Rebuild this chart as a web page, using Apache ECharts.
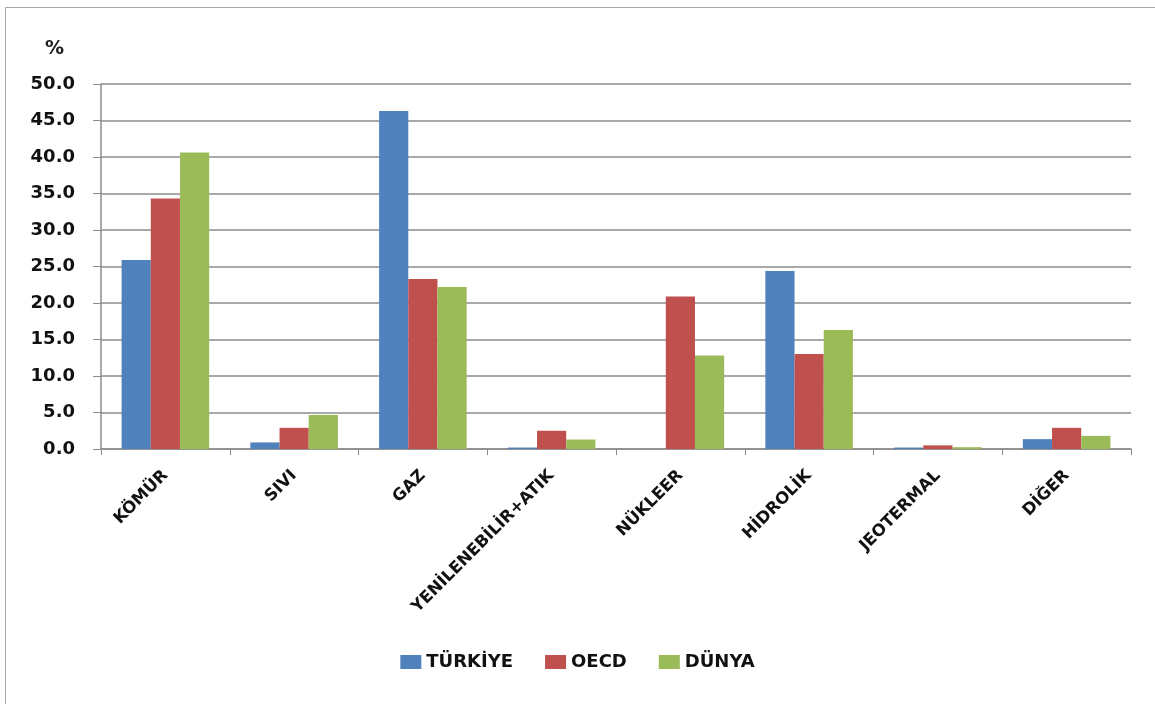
<!DOCTYPE html>
<html>
<head>
<meta charset="utf-8">
<script src="https://cdn.jsdelivr.net/npm/echarts@6/dist/echarts.min.js"></script>
<style>
html,body{margin:0;padding:0;background:#fff;}
#chart{width:1155px;height:704px;}
</style>
</head>
<body>
<div id="chart"></div>
<script>
const categories = ['KÖMÜR', 'SIVI', 'GAZ', 'YENİLENEBİLİR+ATIK', 'NÜKLEER', 'HİDROLİK', 'JEOTERMAL', 'DİĞER'];
const turkiye = [25.9, 0.9, 46.3, 0.2, 0.0, 24.4, 0.2, 1.35];
const oecd = [34.3, 2.9, 23.3, 2.5, 20.9, 13.0, 0.5, 2.9];
const dunya = [40.6, 4.65, 22.2, 1.3, 12.8, 16.3, 0.25, 1.8];
const seriesNames = ['TÜRKİYE', 'OECD', 'DÜNYA'];
const colors = ['#4F81BD', '#C0504D', '#9BBB59'];

const FONT = 'DejaVu Sans';
const chart = echarts.init(document.getElementById('chart'), null, {renderer: 'canvas'});
const mk = (name, data, i) => ({
  name: name, type: 'bar', data: data,
  itemStyle: {color: colors[i]},
  barGap: '0%', barCategoryGap: '32%',
  emphasis: {disabled: true}
});
chart.setOption({
  animation: false,
  backgroundColor: '#fff',
  color: colors,
  graphic: [
    {type: 'rect', shape: {x: 5.5, y: 7.5, width: 1160, height: 700}, style: {fill: 'none', stroke: '#a6a6a6', lineWidth: 1}, silent: true},
    {type: 'text', left: 45, top: 40, style: {text: '%', font: 'bold 19px "DejaVu Sans"', fill: '#1a1a1a'}}
  ],
  grid: {left: 101, right: 24, top: 84, bottom: 255, containLabel: false},
  legend: {
    data: seriesNames, bottom: 28, left: 'center',
    itemWidth: 21, itemHeight: 14, itemGap: 32,
    icon: 'rect',
    textStyle: {fontFamily: FONT, fontWeight: 'bold', fontSize: 18, color: '#111'}
  },
  xAxis: {
    type: 'category', data: categories,
    axisLine: {lineStyle: {color: '#8c8c8c', width: 1.5}},
    axisTick: {show: true, alignWithLabel: false, length: 6, lineStyle: {color: '#8c8c8c'}},
    axisLabel: {rotate: 45, interval: 0, margin: 24, fontFamily: FONT, fontWeight: 'bold', fontSize: 16.5, color: '#111'}
  },
  yAxis: {
    type: 'value', min: 0, max: 50, interval: 5,
    axisLine: {show: true, lineStyle: {color: '#8c8c8c', width: 1.5}},
    axisTick: {show: true, length: 8, lineStyle: {color: '#8c8c8c'}},
    splitLine: {lineStyle: {color: '#8c8c8c', width: 1.5}},
    axisLabel: {margin: 26, fontFamily: FONT, fontWeight: 'bold', fontSize: 18, color: '#111', formatter: v => v.toFixed(1)}
  },
  series: [mk(seriesNames[0], turkiye, 0), mk(seriesNames[1], oecd, 1), mk(seriesNames[2], dunya, 2)]
});
</script>
</body>
</html>
